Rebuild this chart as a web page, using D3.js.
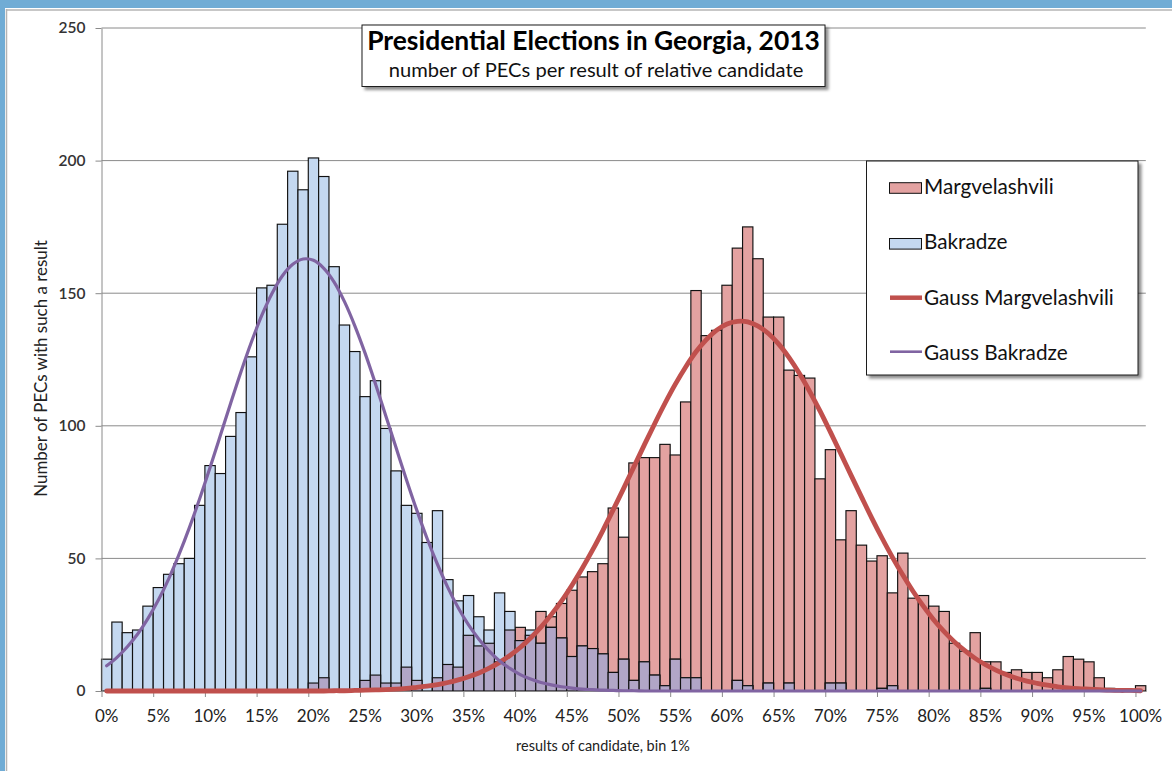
<!DOCTYPE html>
<html>
<head>
<meta charset="utf-8">
<script src="https://cdn.jsdelivr.net/npm/d3@7"></script>
<style>
  body { margin: 0; background: #fff; }
  svg { display: block; font-family: Lato, "Open Sans", sans-serif; }
</style>
</head>
<body>
<svg id="chart" width="1172" height="771"></svg>

<script>
  // number of PECs per 1% bin, 0% .. 100%
  var margvelashvili = [
    0, 0, 0, 0, 0, 0, 0, 0, 0, 0,
    0, 0, 0, 0, 0, 0, 0, 0, 0, 0,
    3, 5, 0, 0, 0, 4, 6, 3, 3, 9,
    4, 0, 5, 10, 9, 21, 17, 18, 11, 23,
    24, 21, 30, 28, 33, 38, 43, 45, 48, 69,
    58, 86, 88, 88, 93, 89, 109, 151, 134, 136,
    153, 167, 175, 163, 141, 141, 121, 119, 118, 80,
    91, 57, 68, 55, 49, 51, 37, 52, 35, 36,
    32, 30, 18, 15, 22, 11, 11, 7, 8, 7,
    7, 5, 8, 13, 12, 11, 5, 1, 0, 0,
    2
  ];
  var bakradze = [
    12, 26, 22, 23, 32, 39, 44, 48, 50, 70,
    85, 82, 96, 105, 126, 152, 153, 176, 196, 189,
    201, 194, 160, 138, 128, 111, 117, 99, 83, 70,
    67, 56, 68, 42, 34, 36, 28, 23, 37, 30,
    19, 23, 18, 24, 20, 13, 17, 16, 14, 7,
    12, 4, 11, 6, 2, 12, 5, 5, 0, 0,
    0, 4, 2, 0, 3, 0, 3, 0, 0, 0,
    3, 3, 0, 0, 0, 1, 2, 0, 0, 0,
    0, 0, 0, 0, 0, 1, 0, 0, 0, 0,
    0, 0, 0, 0, 0, 0, 0, 0, 0, 0,
    0
  ];
  // fitted curves
  var gaussMargvelashvili = [
    0, 0, 0, 0, 0, 0, 0, 0, 0, 0,
    0, 0, 0, 0, 0, 0, 0, 0, 0, 0,
    0, 0, 0.1, 0.1, 0.2, 0.3, 0.4, 0.5, 0.7, 1.0,
    1.4, 1.8, 2.4, 3.2, 4.2, 5.4, 6.8, 8.6, 10.8, 13.4,
    16.4, 20.0, 24.1, 28.8, 34.0, 39.9, 46.3, 53.2, 60.6, 68.4,
    76.4, 84.6, 92.8, 100.8, 108.5, 115.7, 122.2, 127.9, 132.5, 136.1,
    138.4, 139.4, 139.2, 137.6, 134.8, 130.8, 125.7, 119.7, 112.9, 105.5,
    97.6, 89.5, 81.3, 73.2, 65.2, 57.6, 50.4, 43.7, 37.5, 31.9,
    26.8, 22.4, 18.5, 15.2, 12.3, 9.9, 7.9, 6.2, 4.8, 3.7,
    2.9, 2.2, 1.6, 1.2, 0.9, 0.7, 0.5, 0.3, 0.2, 0.2,
    0.1
  ];
  var gaussBakradze = [
    9.5, 12.7, 16.7, 21.5, 27.4, 34.3, 42.3, 51.5, 61.6, 72.6,
    84.3, 96.4, 108.6, 120.5, 131.6, 141.6, 150.0, 156.6, 160.9, 162.9,
    162.4, 159.4, 154.2, 146.8, 137.7, 127.3, 115.8, 103.7, 91.6, 79.6,
    68.1, 57.4, 47.7, 39.0, 31.4, 24.9, 19.5, 15.0, 11.3, 8.5,
    6.2, 4.5, 3.2, 2.3, 1.6, 1.1, 0.7, 0.5, 0.3, 0.2,
    0.1, 0.1, 0, 0, 0, 0, 0, 0, 0, 0,
    0, 0, 0, 0, 0, 0, 0, 0, 0, 0,
    0, 0, 0, 0, 0, 0, 0, 0, 0, 0,
    0, 0, 0, 0, 0, 0, 0, 0, 0, 0,
    0, 0, 0, 0, 0, 0, 0, 0, 0, 0,
    0
  ];
  var xTickLabels = ["0%", "5%", "10%", "15%", "20%", "25%", "30%", "35%", "40%", "45%", "50%",
                     "55%", "60%", "65%", "70%", "75%", "80%", "85%", "90%", "95%", "100%"];
  var yTicks = [0, 50, 100, 150, 200, 250];
  var legendNames = ["Margvelashvili", "Bakradze", "Gauss Margvelashvili", "Gauss Bakradze"];

  var colors = {
    marg: "#e3a2a1", bak: "#c4d8f0", both: "#b1a6c7",
    gaussMarg: "#c0504d", gaussBak: "#8064a2",
    grid: "#8a8a8a", edge: "#111"
  };

  var W = 1172, H = 771;
  var plot = { left: 101.5, right: 1145.8, top: 28, bottom: 691 };
  var svg = d3.select("#chart");

  // fit a text element to a measured width
  var fit = function(sel, width) {
    var w = sel.node().getComputedTextLength();
    var fs = parseFloat(sel.attr("font-size"));
    sel.attr("font-size", fs * width / w);
    return fs * width / w;
  };

  // blue window frame
  svg.append("rect").attr("width", W).attr("height", 8).attr("fill", "#70acd5");
  svg.append("rect").attr("width", 5).attr("height", H).attr("fill", "#70acd5");
  svg.append("line").attr("x1", 6).attr("x2", W).attr("y1", 10).attr("y2", 10)
    .attr("stroke", "#b4b4b4").attr("stroke-width", 1.5);
  svg.append("line").attr("x1", 6.5).attr("x2", 6.5).attr("y1", 9).attr("y2", H)
    .attr("stroke", "#b4b4b4").attr("stroke-width", 1.5);

  var bins = bakradze.map(function(d, i) { return i; });
  var x = d3.scaleBand().domain(bins).range([plot.left, plot.right]).padding(0);
  var xEdge = d3.scaleLinear().domain([0, bins.length]).range([plot.left, plot.right]);
  var y = d3.scaleLinear().domain([0, 250]).range([plot.bottom, plot.top]);

  // gridlines
  svg.append("g").selectAll("line").data(yTicks.slice(1)).join("line")
    .attr("x1", plot.left).attr("x2", plot.right)
    .attr("y1", function(d) { return y(d); }).attr("y2", function(d) { return y(d); })
    .attr("stroke", colors.grid).attr("stroke-width", 1);

  // bars: Margvelashvili, Bakradze, then the overlapping part
  var bar = function(values, fill) {
    svg.append("g").selectAll("rect")
      .data(values.map(function(v, i) { return { i: i, v: v }; }).filter(function(d) { return d.v > 0; }))
      .join("rect")
      .attr("x", function(d) { return x(d.i); })
      .attr("width", x.bandwidth())
      .attr("y", function(d) { return y(d.v); })
      .attr("height", function(d) { return y(0) - y(d.v); })
      .attr("fill", fill)
      .attr("stroke", colors.edge)
      .attr("stroke-width", 1.15);
  };
  bar(margvelashvili, colors.marg);
  bar(bakradze, colors.bak);
  bar(bakradze.map(function(v, i) { return Math.min(v, margvelashvili[i]); }), colors.both);

  // y axis
  var yAxis = svg.append("g").attr("transform", "translate(" + plot.left + ",0)")
    .call(d3.axisLeft(y).tickValues(yTicks).tickSize(6).tickSizeOuter(0).tickPadding(10));
  yAxis.select(".domain").attr("stroke", colors.grid);
  yAxis.selectAll(".tick line").attr("stroke", colors.grid);
  yAxis.selectAll(".tick text").attr("font-family", "Lato").attr("font-size", 15.5)
    .attr("font-weight", 600).attr("fill", "#333");

  // x axis: tick marks on bin edges, labels on bin centres
  var xMarks = svg.append("g").attr("transform", "translate(0," + plot.bottom + ")")
    .call(d3.axisBottom(xEdge).tickValues(bins.filter(function(i) { return i % 5 === 0; }))
      .tickSize(6).tickSizeOuter(0).tickFormat(""));
  xMarks.select(".domain").attr("stroke", colors.grid);
  xMarks.selectAll(".tick line").attr("stroke", colors.grid);

  var xLabels = svg.append("g").attr("transform", "translate(0," + plot.bottom + ")")
    .call(d3.axisBottom(x).tickValues(bins.filter(function(i) { return i % 5 === 0; }))
      .tickSize(0).tickPadding(19).tickFormat(function(i) { return xTickLabels[i / 5]; }));
  xLabels.select(".domain").remove();
  xLabels.selectAll(".tick text").attr("font-family", "Lato").attr("font-size", 17).attr("fill", "#222");

  // gauss curves
  var line = d3.line()
    .x(function(d, i) { return x(i) + x.bandwidth() / 2; })
    .y(function(d) { return y(d); })
    .curve(d3.curveCatmullRom.alpha(0.5));

  svg.append("path").datum(gaussMargvelashvili).attr("d", line)
    .attr("fill", "none").attr("stroke", colors.gaussMarg).attr("stroke-width", 4.8)
    .attr("stroke-linecap", "round").attr("stroke-linejoin", "round");
  svg.append("path").datum(gaussBakradze).attr("d", line)
    .attr("fill", "none").attr("stroke", colors.gaussBak).attr("stroke-width", 3.2)
    .attr("stroke-linecap", "round").attr("stroke-linejoin", "round");

  // axis titles
  var xt = svg.append("text").attr("x", 603).attr("y", 751).attr("text-anchor", "middle")
    .attr("font-size", 14).attr("fill", "#222").text("results of candidate, bin 1%");
  fit(xt, 174);
  var yt = svg.append("text").attr("transform", "translate(47,368.5) rotate(-90)")
    .attr("text-anchor", "middle").attr("font-size", 15).attr("fill", "#222")
    .text("Number of PECs with such a result");
  fit(yt, 257);

  // boxes with a soft shadow
  var defs = svg.append("defs");
  defs.append("filter").attr("id", "shadow").attr("x", "-5%").attr("y", "-5%").attr("width", "115%").attr("height", "125%")
    .append("feDropShadow").attr("dx", 3).attr("dy", 3).attr("stdDeviation", 1.6)
    .attr("flood-color", "#000").attr("flood-opacity", 0.45);

  // title box
  svg.append("rect").attr("x", 362).attr("y", 25).attr("width", 463).attr("height", 61.5)
    .attr("fill", "#fff").attr("stroke", "#1a1a1a").attr("stroke-width", 1).attr("filter", "url(#shadow)");
  var t1 = svg.append("text").attr("x", 593.5).attr("y", 49.5).attr("text-anchor", "middle")
    .attr("font-size", 21).attr("font-weight", "bold").attr("fill", "#000")
    .text("Presidential Elections in Georgia, 2013");
  fit(t1, 453);
  var t2 = svg.append("text").attr("x", 596).attr("y", 77).attr("text-anchor", "middle")
    .attr("font-size", 16).attr("fill", "#111")
    .text("number of PECs per result of relative candidate");
  fit(t2, 415);

  // legend
  var legend = svg.append("g");
  legend.append("rect").attr("x", 866.5).attr("y", 161).attr("width", 271.5).attr("height", 214)
    .attr("fill", "#fff").attr("stroke", "#1a1a1a").attr("stroke-width", 1).attr("filter", "url(#shadow)");

  var rows = [194, 249.3, 305, 360];
  var swatchY = [188, 243.8, 297.7, 351.7];
  legend.append("rect").attr("x", 889.5).attr("y", swatchY[0] - 5.3).attr("width", 32).attr("height", 10.6)
    .attr("fill", colors.marg).attr("stroke", colors.edge);
  legend.append("rect").attr("x", 889.5).attr("y", swatchY[1] - 5.3).attr("width", 32).attr("height", 10.6)
    .attr("fill", colors.bak).attr("stroke", colors.edge);
  legend.append("line").attr("x1", 890).attr("x2", 922).attr("y1", swatchY[2]).attr("y2", swatchY[2])
    .attr("stroke", colors.gaussMarg).attr("stroke-width", 4.5);
  legend.append("line").attr("x1", 890).attr("x2", 922).attr("y1", swatchY[3]).attr("y2", swatchY[3])
    .attr("stroke", colors.gaussBak).attr("stroke-width", 2.6);

  var labels = legend.selectAll("text.item").data(legendNames).join("text")
    .attr("class", "item")
    .attr("x", 924).attr("y", function(d, i) { return rows[i]; })
    .attr("font-size", 19).attr("fill", "#111")
    .text(function(d) { return d; });
  var fs = fit(d3.select(labels.nodes()[2]), 190);
  labels.attr("font-size", fs);
</script>
</body>
</html>
